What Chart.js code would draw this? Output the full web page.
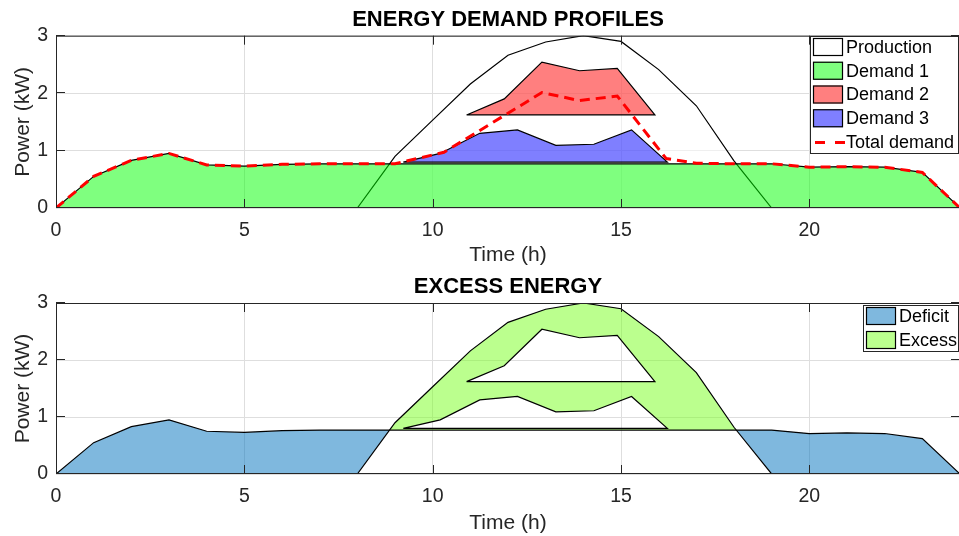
<!DOCTYPE html>
<html>
<head>
<meta charset="utf-8">
<script src="https://cdn.jsdelivr.net/npm/chart.js@4.4.1/dist/chart.umd.min.js"></script>
<style>
  html, body { margin: 0; padding: 0; background: #fff; overflow: hidden; width: 959px; height: 536px; }
  canvas { display: block; }
</style>
</head>
<body>
<canvas id="chartDemand" width="975" height="268"></canvas>
<canvas id="chartExcess" width="975" height="268"></canvas>
<script>
// values (hours 0..24)
const hours = [0, 1, 2, 3, 4, 5, 6, 7, 8, 9, 10, 11, 12, 13, 14, 15, 16, 17, 18, 19, 20, 21, 22, 23, 24];
const production = [0, 0, 0, 0, 0, 0, 0, 0, 0, 0.9, 1.53, 2.16, 2.66, 2.89, 3.0, 2.9, 2.41, 1.78, 0.82, 0, 0, 0, 0, 0, 0];
const demand1 = [0, 0.55, 0.83, 0.95, 0.75, 0.73, 0.76, 0.77, 0.77, 0.77, 0.77, 0.77, 0.77, 0.77, 0.77, 0.77, 0.77, 0.77, 0.77, 0.77, 0.71, 0.72, 0.71, 0.62, 0];

// demand 2 and 3 are closed shapes (first and last point sit on the base)
const demand2Hours = [10.9, 11.9, 12.9, 13.9, 14.9, 15.9];
const demand2 = [1.62, 1.90, 2.54, 2.39, 2.43, 1.62];
const demand3Hours = [9.22, 10.2, 11.25, 12.25, 13.27, 14.28, 15.28, 16.23];
const demand3 = [0.80, 0.95, 1.30, 1.36, 1.09, 1.11, 1.36, 0.80];

const totalHours = [0, 1, 2, 3, 4, 5, 6, 7, 8, 9, 10.3, 12.9, 13.9, 14.9, 16.2, 17, 18, 19, 20, 21, 22, 23, 24];
const totalDemand = [0, 0.55, 0.83, 0.95, 0.75, 0.73, 0.76, 0.77, 0.77, 0.77, 0.97, 2.01, 1.87, 1.95, 0.86, 0.78, 0.77, 0.77, 0.71, 0.72, 0.71, 0.62, 0];

// where the production curve meets demand 1
const crossHours = [8.86, 18.06];
const crossPower = [0.77, 0.77];

const xTicks = [0, 5, 10, 15, 20];
const yTicks = [0, 1, 2, 3];
const legendTop = ["Production", "Demand 1", "Demand 2", "Demand 3", "Total demand"];
const legendBottom = ["Deficit", "Excess"];

const fontFamily = "'Liberation Sans', Arial, Helvetica, sans-serif";
const gridColor = '#dedede';
const axisColor = '#262626';

Chart.defaults.font.family = fontFamily;
Chart.defaults.color = axisColor;

function points(xs, ys) {
    return xs.map((x, i) => ({ x: x, y: ys[i] }));
}

function closedShape(xs, ys) {
    let p = points(xs, ys);
    p.push(p[0]);
    return p;
}

// excess area: production above demand 1, with demand 2 / demand 3 cut out (joined by bridges)
function excessShape() {
    let p = [{ x: crossHours[0], y: crossPower[0] }];
    for (let h = 9; h <= 18; h++) p.push({ x: hours[h], y: production[h] });
    p.push({ x: crossHours[1], y: crossPower[1] });
    p.push({ x: demand3Hours[0], y: crossPower[0] });
    // demand 3 hole: bottom left->right, then top back to the bridge point
    p.push({ x: demand3Hours[0], y: demand3[0] });
    p.push({ x: demand3Hours[7], y: demand3[7] });
    for (let i = 6; i >= 3; i--) p.push({ x: demand3Hours[i], y: demand3[i] });
    // bridge up to demand 2 hole
    p.push({ x: demand3Hours[3], y: demand2[0] });
    p.push({ x: demand2Hours[5], y: demand2[5] });
    for (let i = 4; i >= 0; i--) p.push({ x: demand2Hours[i], y: demand2[i] });
    p.push({ x: demand3Hours[3], y: demand2[0] });
    // back down and finish demand 3
    for (let i = 3; i >= 0; i--) p.push({ x: demand3Hours[i], y: demand3[i] });
    p.push({ x: demand3Hours[0], y: crossPower[0] });
    p.push({ x: crossHours[0], y: crossPower[0] });
    return p;
}

// box around the plot with inward ticks (matlab look)
const axesBox = {
    id: 'axesBox',
    afterDatasetsDraw(chart) {
        const ctx = chart.ctx;
        const a = chart.chartArea;
        const sx = chart.scales.x;
        const sy = chart.scales.y;
        ctx.save();
        ctx.strokeStyle = axisColor;
        ctx.lineWidth = 1;
        ctx.strokeRect(a.left + 0.5, a.top + 0.5, a.right - a.left - 1, a.bottom - a.top - 1);
        ctx.beginPath();
        xTicks.forEach((v) => {
            const px = Math.round(sx.getPixelForValue(v)) + 0.5;
            ctx.moveTo(px, a.bottom); ctx.lineTo(px, a.bottom - 9);
            ctx.moveTo(px, a.top); ctx.lineTo(px, a.top + 9);
        });
        yTicks.forEach((v) => {
            const py = Math.round(sy.getPixelForValue(v)) - 0.5;
            ctx.moveTo(a.left, py); ctx.lineTo(a.left + 9, py);
            ctx.moveTo(a.right, py); ctx.lineTo(a.right - 9, py);
        });
        ctx.stroke();
        ctx.restore();
    }
};

// legend in a white box, top right of the plot
const boxLegend = {
    id: 'boxLegend',
    afterDraw(chart, args, opts) {
        const ctx = chart.ctx;
        const a = chart.chartArea;
        const top = Math.round(a.top + opts.offsetTop);
        const height = 23 + opts.rowHeight * (opts.items.length - 1);
        const left = opts.left;
        const right = a.right - 1;
        ctx.save();
        ctx.fillStyle = '#ffffff';
        ctx.fillRect(left, top, right - left, height);
        ctx.strokeStyle = axisColor;
        ctx.lineWidth = 1;
        ctx.strokeRect(left + 0.5, top + 0.5, right - left - 1, height - 1);
        ctx.font = "18px " + fontFamily;
        ctx.textBaseline = 'middle';
        opts.items.forEach((it, i) => {
            const cy = top + 11 + i * opts.rowHeight;
            const bx = left + 3;
            if (it.dash) {
                ctx.strokeStyle = it.line;
                ctx.lineWidth = 3;
                ctx.setLineDash(it.dash);
                ctx.beginPath();
                ctx.moveTo(bx + 2, cy + 0.5);
                ctx.lineTo(bx + 32, cy + 0.5);
                ctx.stroke();
                ctx.setLineDash([]);
            } else {
                ctx.fillStyle = it.fill;
                ctx.fillRect(bx, cy - 9, 30, 18);
                ctx.strokeStyle = '#000';
                ctx.lineWidth = 1.2;
                ctx.strokeRect(bx + 0.5, cy - 8.5, 29, 17);
            }
            ctx.fillStyle = '#000';
            ctx.fillText(it.text, bx + 33, cy + 1);
        });
        ctx.restore();
    }
};

function scalesConfig(xAxisHeight) {
    return {
        x: {
            type: 'linear',
            min: 0,
            max: 24,
            afterBuildTicks: (s) => { s.ticks = xTicks.map((v) => ({ value: v })); },
            afterFit: (s) => { s.height = xAxisHeight; },
            grid: { color: gridColor, lineWidth: 1, drawTicks: false },
            border: { display: false },
            ticks: { font: { size: 19.5 }, color: axisColor, padding: 11, maxRotation: 0, autoSkip: false },
            title: { display: true, text: 'Time (h)', font: { size: 21 }, color: axisColor, padding: { top: 0, bottom: 0 } }
        },
        y: {
            type: 'linear',
            min: 0,
            max: 3,
            afterBuildTicks: (s) => { s.ticks = yTicks.map((v) => ({ value: v })); },
            afterFit: (s) => { s.width = 56; },
            grid: { color: gridColor, lineWidth: 1, drawTicks: false },
            border: { display: false },
            ticks: { font: { size: 19.5 }, color: axisColor, padding: 8 },
            title: { display: true, text: 'Power (kW)', font: { size: 21 }, color: axisColor, padding: { top: 11, bottom: 0 } }
        }
    };
}

let chartDemand;
let chartExcess;

function drawDemandChart() {
    const ctx = document.getElementById('chartDemand').getContext('2d');
    chartDemand = new Chart(ctx, {
        type: 'line',
        data: {
            datasets: [
                { label: legendTop[0], data: points(hours, production), fill: 'origin', backgroundColor: 'rgba(255,255,255,0.5)', borderColor: '#000', borderWidth: 1.2, order: 5 },
                { label: legendTop[1], data: points(hours, demand1), fill: 'origin', backgroundColor: 'rgba(0,255,0,0.5)', borderColor: '#000', borderWidth: 1.2, order: 4 },
                { label: legendTop[2], data: closedShape(demand2Hours, demand2), fill: 'shape', backgroundColor: 'rgba(255,0,0,0.5)', borderColor: '#000', borderWidth: 1.2, order: 3 },
                { label: legendTop[3], data: closedShape(demand3Hours, demand3), fill: 'shape', backgroundColor: 'rgba(0,0,255,0.5)', borderColor: '#000', borderWidth: 1.2, order: 2 },
                { label: legendTop[4], data: points(totalHours, totalDemand), fill: false, borderColor: '#ff0000', borderWidth: 3, borderDash: [10, 6], order: 1 }
            ]
        },
        options: {
            responsive: false,
            animation: false,
            devicePixelRatio: 1,
            layout: { padding: { left: 0, right: 15, top: 0, bottom: 0 } },
            elements: { point: { radius: 0, hoverRadius: 0 }, line: { tension: 0 } },
            scales: scalesConfig(60),
            plugins: {
                legend: { display: false },
                tooltip: { enabled: false },
                title: { display: true, text: 'ENERGY DEMAND PROFILES', fullSize: false, color: '#000', font: { size: 22, weight: 'bold' }, padding: { top: 7, bottom: 2.3 } },
                boxLegend: {
                    left: 810, offsetTop: 0, rowHeight: 23.75,
                    items: [
                        { text: legendTop[0], fill: '#ffffff' },
                        { text: legendTop[1], fill: 'rgba(0,255,0,0.5)' },
                        { text: legendTop[2], fill: 'rgba(255,0,0,0.5)' },
                        { text: legendTop[3], fill: 'rgba(0,0,255,0.5)' },
                        { text: legendTop[4], line: '#ff0000', dash: [10, 10] }
                    ]
                }
            }
        },
        plugins: [axesBox, boxLegend]
    });
}

function drawExcessChart() {
    const ctx = document.getElementById('chartExcess').getContext('2d');
    const blue = 'rgba(0,114,189,0.5)';
    const green = 'rgba(120,255,30,0.5)';
    chartExcess = new Chart(ctx, {
        type: 'line',
        data: {
            datasets: [
                { label: legendBottom[1], data: excessShape(), fill: 'shape', backgroundColor: green, borderColor: 'transparent', borderWidth: 0, order: 5 },
                { label: legendBottom[0], data: points(hours, demand1), fill: { target: 2, above: blue, below: 'transparent' }, backgroundColor: blue, borderColor: '#000', borderWidth: 1.2, order: 4 },
                { label: 'Production', data: points(hours, production), fill: false, borderColor: '#000', borderWidth: 1.2, order: 3 },
                { label: 'Demand 2', data: closedShape(demand2Hours, demand2), fill: false, borderColor: '#000', borderWidth: 1.2, order: 2 },
                { label: 'Demand 3', data: closedShape(demand3Hours, demand3), fill: false, borderColor: '#000', borderWidth: 1.2, order: 1 }
            ]
        },
        options: {
            responsive: false,
            animation: false,
            devicePixelRatio: 1,
            layout: { padding: { left: 0, right: 15, top: 0, bottom: 0 } },
            elements: { point: { radius: 0, hoverRadius: 0 }, line: { tension: 0 } },
            scales: scalesConfig(62),
            plugins: {
                legend: { display: false },
                tooltip: { enabled: false },
                title: { display: true, text: 'EXCESS ENERGY', fullSize: false, color: '#000', font: { size: 22, weight: 'bold' }, padding: { top: 6, bottom: 2.6 } },
                boxLegend: {
                    left: 863, offsetTop: 2, rowHeight: 24,
                    items: [
                        { text: legendBottom[0], fill: blue },
                        { text: legendBottom[1], fill: green }
                    ]
                }
            }
        },
        plugins: [axesBox, boxLegend]
    });
}

addEventListener("DOMContentLoaded", () => {
    drawDemandChart();
    drawExcessChart();
});
</script>
</body>
</html>
